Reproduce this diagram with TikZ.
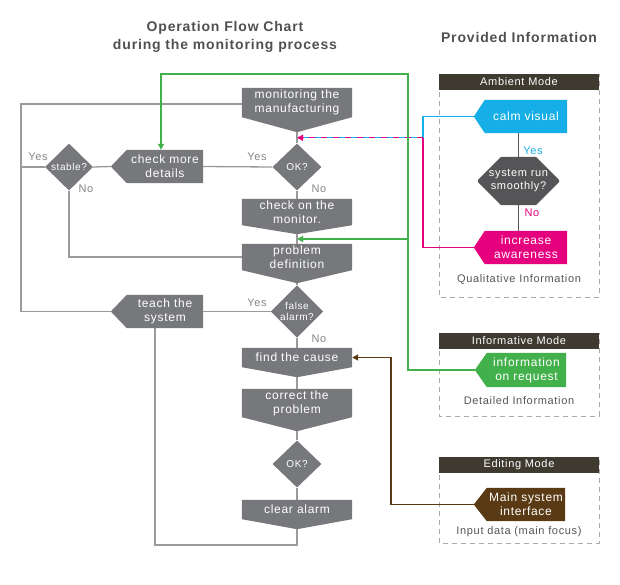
\documentclass[tikz,border=0pt]{standalone}
\usepackage{fontspec}
\setmainfont{Liberation Sans}
\newfontfamily\trk[LetterSpace=6]{Liberation Sans}
\usetikzlibrary{shapes.geometric,shapes.misc,arrows.meta,calc}
\pgfdeclarelayer{bg}
\pgfsetlayers{bg,main}
\definecolor{boxgray}{HTML}{77787B}
\definecolor{linegray}{HTML}{9A9A9A}
\definecolor{labgray}{HTML}{858585}
\definecolor{titlegray}{HTML}{505050}
\definecolor{hdr}{HTML}{3E3A30}
\definecolor{cyanC}{HTML}{16AEE6}
\definecolor{magC}{HTML}{E5007E}
\definecolor{greenC}{HTML}{43B14B}
\definecolor{brownC}{HTML}{5A3A14}
\definecolor{darkhex}{HTML}{555557}
\definecolor{dashgray}{HTML}{AAAAAA}
\definecolor{captgray}{HTML}{555555}
\begin{document}
\begin{tikzpicture}[x=1pt,y=-1pt,
  box/.style={inner sep=0pt, text=white, align=center, font=\trk\fontsize{12}{14}\selectfont},
  dia/.style={diamond, fill=boxgray, inner sep=0pt, text=white, align=center,
    minimum width=49, minimum height=47, font=\trk\fontsize{10}{11.5}\selectfont},
  lab/.style={inner sep=0pt, text=labgray, font=\trk\fontsize{11}{13}\selectfont},
  conn/.style={draw=linegray, line width=1.3pt},
  tip/.style={-{Triangle[length=6pt,width=6pt]}},
  hdrbox/.style={fill=hdr, inner sep=0pt, text=white, minimum width=160, minimum height=16,
    font=\trk\fontsize{11}{13}\selectfont},
  frame/.style={draw=dashgray, line width=0.9pt, dash pattern=on 5pt off 4pt},
  capt/.style={inner sep=0pt, text=captgray, font=\trk\fontsize{11}{13}\selectfont},
  ttl/.style={inner sep=0pt, text=titlegray, align=center, font=\trk\bfseries\fontsize{14}{18}\selectfont}
]
\useasboundingbox (0,0) rectangle (620,584);

% titles
\node[ttl] (title) at (225,37) {Operation Flow Chart\\during the monitoring process};
\node[ttl] (pinfo) at (519,37) {Provided Information};

% main column
\node[box, minimum width=110, minimum height=29] (mon) at (297,102.5) {monitoring the\\manufacturing};
\coordinate (mon-tip) at ([yshift=-15pt]mon.south);
\node[dia] (ok1) at (297,167) {OK?};
\node[box, minimum width=110, minimum height=26] (chk2) at (297,212) {check on the\\monitor.};
\coordinate (chk2-tip) at ([yshift=-9pt]chk2.south);
\node[box, minimum width=110, minimum height=26] (prob) at (297,257) {problem\\definition};
\coordinate (prob-tip) at ([yshift=-13pt]prob.south);
\node[dia] (fa) at (297,311.5) {false\\alarm?};
\node[box, minimum width=110, minimum height=19] (find) at (297,357.5) {find the cause};
\coordinate (find-tip) at ([yshift=-10pt]find.south);
\node[box, minimum width=110, minimum height=28] (corr) at (297,403) {correct the\\problem};
\coordinate (corr-tip) at ([yshift=-14pt]corr.south);
\node[dia] (ok2) at (297,464) {OK?};
\node[box, minimum width=110, minimum height=19] (clr) at (297,509.5) {clear alarm};
\coordinate (clr-tip) at ([yshift=-10pt]clr.south);

% left column
\node[box, minimum width=76, minimum height=33] (chkm) at (165,166.5) {check more\\details};
\coordinate (chkm-tip) at ([xshift=-16pt]chkm.west);
\node[dia, minimum width=48] (stab) at (69,167) {stable?};
\node[box, minimum width=76, minimum height=33] (teach) at (165,311.5) {teach the\\system};
\coordinate (teach-tip) at ([xshift=-16pt]teach.west);

% right panels
\draw[frame] (439,74) rectangle (599,297);
\draw[frame] (439,333) rectangle (599,416);
\draw[frame] (439,457) rectangle (599,543);
\node[hdrbox] (amb) at (519,82) {Ambient Mode};
\node[hdrbox] (infm) at (519,341) {Informative Mode};
\node[hdrbox] (edm) at (519,465) {Editing Mode};

\node[box, minimum width=82, minimum height=33] (calm) at (526,116.5) {calm visual};
\coordinate (calm-tip) at ([xshift=-11pt]calm.west);
\node[chamfered rectangle, chamfered rectangle xsep=10pt, chamfered rectangle ysep=13pt,
  fill=darkhex, inner sep=0pt, minimum width=81, minimum height=42, text=white, align=center,
  font=\trk\fontsize{11}{13}\selectfont] (hex) at (518.5,181) {system run\\smoothly?};
\node[box, minimum width=82, minimum height=33] (incr) at (526,247.5) {increase\\awareness};
\coordinate (incr-tip) at ([xshift=-11pt]incr.west);
\node[capt] (qual) at (519,280) {Qualitative Information};

\node[box, minimum width=79, minimum height=34] (info) at (526.5,370) {information\\on request};
\coordinate (info-tip) at ([xshift=-12pt]info.west);
\node[capt] (det) at (519,401) {Detailed Information};

\node[box, minimum width=78, minimum height=33] (ms) at (526,504.5) {Main system\\interface};
\coordinate (ms-tip) at ([xshift=-13pt]ms.west);
\node[capt] (inp) at (519,532) {Input data (main focus)};

% shape fills
\begin{pgfonlayer}{bg}
\foreach \n in {mon,chk2,prob,find,corr,clr}
  \fill[boxgray] (\n.north west) -- (\n.north east) -- (\n.south east) -- (\n-tip) -- (\n.south west) -- cycle;
\foreach \n/\c in {chkm/boxgray,teach/boxgray,calm/cyanC,incr/magC,info/greenC,ms/brownC}
  \fill[\c] (\n.north east) -- (\n.south east) -- (\n.south west) -- (\n-tip) -- (\n.north west) -- cycle;
\end{pgfonlayer}

% gray connectors
\draw[conn] (mon-tip) -- (ok1.north);
\draw[conn] (ok1.south) -- (chk2.north);
\draw[conn] (chk2-tip) -- (prob.north);
\draw[conn] (prob-tip) -- (fa.north);
\draw[conn] (fa.south) -- (find.north);
\draw[conn] (find-tip) -- (corr.north);
\draw[conn] (corr-tip) -- (ok2.north);
\draw[conn] (ok2.south) -- (clr.north);
\draw[conn] (ok1.west) -- (chkm.east);
\draw[conn] (chkm-tip) -- (stab.east);
\coordinate (lt) at (21,104);
\draw[conn] (mon.west |- lt) -- (lt) -- (lt |- teach-tip) -- (teach-tip);
\draw[conn] (stab.west) -- (stab.west -| lt);
\draw[conn] (stab.south) |- (prob.west);
\draw[conn] (fa.west) -- (teach.east);
\coordinate (tb) at (155,545);
\draw[conn] (clr-tip) |- (tb) -- (tb |- teach.south);

% labels
\node[lab] (y1) at (38,157) {Yes};
\node[lab] (n1) at (86,189) {No};
\node[lab] (y2) at (257,157) {Yes};
\node[lab] (n2) at (319,189) {No};
\node[lab] (y3) at (257,303) {Yes};
\node[lab] (n3) at (319,339) {No};

% ambient internal
\draw[draw=darkhex, line width=1.3pt] (hex.north |- calm.south) -- (hex.north);
\draw[draw=darkhex, line width=1.3pt] (hex.south) -- (hex.south |- incr.north);
\node[lab, text=cyanC] (y4) at (533,151) {Yes};
\node[lab, text=magC] (n4) at (532,213) {No};

% coloured connectors
\coordinate (j0) at ($(mon-tip)!0.5!(ok1.north)$);
\coordinate (j1) at ($(chk2-tip)!0.5!(prob.north)$);
\coordinate (cmx) at (423,0);
\draw[cyanC, line width=1.3pt] (calm-tip) -- (calm-tip -| cmx) -- (cmx |- j0) -- (j0);
\draw[magC, line width=1.3pt] (incr-tip) -- (incr-tip -| cmx) -- (cmx |- j0);
\draw[magC, line width=1.3pt, dash pattern=on 6pt off 6pt, tip] (cmx |- j0) -- (j0);

\coordinate (gx) at (408,74);
\coordinate (gl) at (161,74);
\draw[greenC, line width=1.2pt, tip] (info-tip) -- (info-tip -| gx) -- (gx) -- (gl) -- (gl |- chkm.north);
\draw[greenC, line width=1.2pt, tip] (gx |- j1) -- (j1);

\coordinate (bx) at (391,0);
\draw[brownC, line width=1.2pt, tip] (ms-tip) -- (ms-tip -| bx) -- (bx |- find.east) -- (find.east);
\end{tikzpicture}
\end{document}
